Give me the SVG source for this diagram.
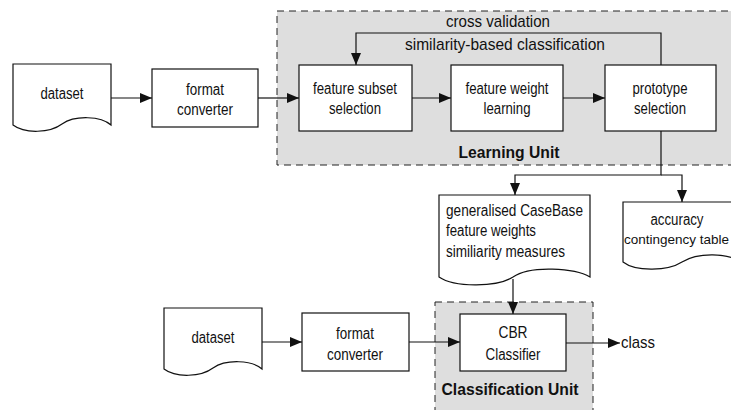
<svg xmlns="http://www.w3.org/2000/svg" width="731" height="410" viewBox="0 0 731 410">
<style>
.unit{fill:#dedede;stroke:#222;stroke-width:1;stroke-dasharray:7,5}
.box{fill:#fff;stroke:#111;stroke-width:1.2}
.t{font-family:"Liberation Sans",Arial,sans-serif;font-size:16px;fill:#111;text-anchor:middle}
.tl{text-anchor:start}
.h{font-size:17px}
.b{font-size:17px;font-weight:bold}
.c{fill:none;stroke:#111;stroke-width:1.2}
</style>
<defs>
<marker id="ah" markerUnits="userSpaceOnUse" markerWidth="12" markerHeight="10" refX="12" refY="5" orient="auto">
<path d="M0,0 L12,5 L0,10 Z" fill="#111"/>
</marker>
</defs>
<g id="learning-unit">
<rect class="unit" x="277" y="11" width="470" height="154"/>
<text class="t h" x="498" y="27" textLength="104" lengthAdjust="spacingAndGlyphs">cross validation</text>
<text class="t h" x="505" y="50" textLength="200" lengthAdjust="spacingAndGlyphs">similarity-based classification</text>
<text class="t b" x="509" y="158" textLength="101" lengthAdjust="spacingAndGlyphs">Learning Unit</text>
</g>
<g id="classification-unit">
<rect class="unit" x="435" y="302" width="158" height="120"/>
<text class="t b" x="510" y="395" textLength="137" lengthAdjust="spacingAndGlyphs">Classification Unit</text>
</g>
<g id="dataset1">
<path class="box" d="M13,64 H111 V125 C101,116 75,115 62,124 C50,133 25,134 13,125 Z"/>
<text class="t" x="62" y="99" textLength="43" lengthAdjust="spacingAndGlyphs">dataset</text>
</g>
<g id="converter1">
<rect class="box" x="152" y="69" width="106" height="58"/>
<text class="t" x="205" y="95" textLength="38" lengthAdjust="spacingAndGlyphs">format</text>
<text class="t" x="205" y="115" textLength="56" lengthAdjust="spacingAndGlyphs">converter</text>
</g>
<g id="feature-subset">
<rect class="box" x="299" y="65" width="113" height="66"/>
<text class="t" x="355" y="94" textLength="84" lengthAdjust="spacingAndGlyphs">feature subset</text>
<text class="t" x="355" y="114" textLength="52" lengthAdjust="spacingAndGlyphs">selection</text>
</g>
<g id="feature-weight">
<rect class="box" x="451" y="65" width="112" height="66"/>
<text class="t" x="507" y="94" textLength="83" lengthAdjust="spacingAndGlyphs">feature weight</text>
<text class="t" x="507" y="114" textLength="47" lengthAdjust="spacingAndGlyphs">learning</text>
</g>
<g id="prototype">
<rect class="box" x="605" y="65" width="111" height="66"/>
<text class="t" x="660" y="94" textLength="55" lengthAdjust="spacingAndGlyphs">prototype</text>
<text class="t" x="660" y="114" textLength="52" lengthAdjust="spacingAndGlyphs">selection</text>
</g>
<g id="casebase">
<path class="box" d="M439,195 H590 V277 C575,268 530,265 513,277 C498,287 455,288 439,277 Z"/>
<text class="t tl" x="446" y="216" textLength="137" lengthAdjust="spacingAndGlyphs">generalised CaseBase</text>
<text class="t tl" x="446" y="236" textLength="90" lengthAdjust="spacingAndGlyphs">feature weights</text>
<text class="t tl" x="446" y="257" textLength="119" lengthAdjust="spacingAndGlyphs">similiarity measures</text>
</g>
<g id="accuracy">
<path class="box" d="M623,202 H741 V262 C728,253 698,252 682,262 C668,271 636,272 623,262 Z"/>
<text class="t" x="677" y="225" textLength="53" lengthAdjust="spacingAndGlyphs">accuracy</text>
<text class="t tl" x="624" y="244" style="font-size:13.5px">contingency table</text>
</g>
<g id="dataset2">
<path class="box" d="M164,308 H262 V369 C252,360 226,359 213,368 C201,377 176,378 164,369 Z"/>
<text class="t" x="213" y="343" textLength="43" lengthAdjust="spacingAndGlyphs">dataset</text>
</g>
<g id="converter2">
<rect class="box" x="302" y="313" width="107" height="58"/>
<text class="t" x="355" y="339" textLength="38" lengthAdjust="spacingAndGlyphs">format</text>
<text class="t" x="355" y="360" textLength="56" lengthAdjust="spacingAndGlyphs">converter</text>
</g>
<g id="cbr">
<rect class="box" x="460" y="314" width="106" height="57"/>
<text class="t" x="513" y="338" textLength="29" lengthAdjust="spacingAndGlyphs">CBR</text>
<text class="t" x="513" y="360" textLength="55" lengthAdjust="spacingAndGlyphs">Classifier</text>
</g>
<g id="class-label">
<text class="t tl h" x="621" y="348" textLength="34" lengthAdjust="spacingAndGlyphs">class</text>
</g>
<g id="connectors">
<path class="c" marker-end="url(#ah)" d="M111,98 H152"/>
<path class="c" d="M258,98 H277"/>
<path class="c" marker-end="url(#ah)" d="M277,98 H299"/>
<path class="c" marker-end="url(#ah)" d="M412,98 H451"/>
<path class="c" marker-end="url(#ah)" d="M563,98 H605"/>
<path class="c" marker-end="url(#ah)" d="M661,65 V33 H356 V65"/>
<path class="c" marker-end="url(#ah)" d="M661,131 V175 H515 V195"/>
<path class="c" marker-end="url(#ah)" d="M661,175 H682 V202"/>
<path class="c" marker-end="url(#ah)" d="M513,279 V314"/>
<path class="c" marker-end="url(#ah)" d="M262,342 H302"/>
<path class="c" marker-end="url(#ah)" d="M409,342 H460"/>
<path class="c" marker-end="url(#ah)" d="M566,343 H620"/>
</g>
</svg>
